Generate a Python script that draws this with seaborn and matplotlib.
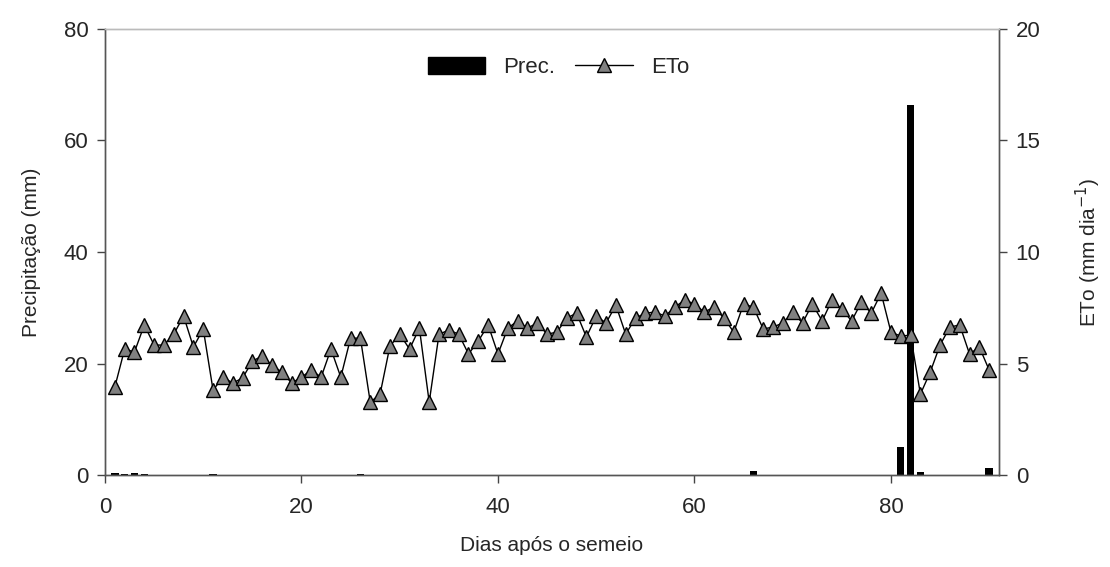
import numpy as np
import pandas as pd
import seaborn as sns
import matplotlib.pyplot as plt
from matplotlib.patches import Patch
from matplotlib.lines import Line2D

sns.set_style("ticks")
plt.rcParams['font.family'] = ['Liberation Sans', 'DejaVu Sans']

# Daily data, days after sowing 1..90
days = list(range(1, 91))

# reference evapotranspiration (mm dia-1)
eto = [3.95, 5.65, 5.52, 6.73, 5.83, 5.83, 6.32, 7.13, 5.74, 6.55,
       3.81, 4.39, 4.13, 4.35, 5.11, 5.34, 4.93, 4.62, 4.13, 4.39,
       4.71, 4.39, 5.65, 4.39, 6.14, 6.14, 3.27, 3.63, 5.78, 6.32,
       5.65, 6.59, 3.27, 6.32, 6.50, 6.32, 5.43, 6.01, 6.73, 5.43,
       6.59, 6.91, 6.59, 6.82, 6.32, 6.41, 7.04, 7.26, 6.19, 7.13,
       6.82, 7.62, 6.32, 7.04, 7.26, 7.31, 7.13, 7.53, 7.85, 7.67,
       7.31, 7.53, 7.04, 6.41, 7.67, 7.53, 6.55, 6.64, 6.82, 7.31,
       6.82, 7.67, 6.91, 7.85, 7.44, 6.91, 7.76, 7.26, 8.16, 6.41,
       6.23, 6.28, 3.63, 4.62, 5.83, 6.64, 6.73, 5.43, 5.74, 4.71]

# precipitation (mm), only rainy days
prec_days = [1, 2, 3, 4, 11, 26, 66, 81, 82, 83, 90]
prec = [0.35, 0.2, 0.35, 0.2, 0.15, 0.15, 0.8, 5.0, 66.4, 0.5, 1.25]

prec_df = pd.DataFrame({'dia': prec_days, 'prec': prec})
eto_df = pd.DataFrame({'dia': days, 'eto': eto})

fig = plt.figure(figsize=(11.1, 5.67), dpi=100)
ax = fig.add_axes([0.0946, 0.162, 0.8054, 0.787])

sns.barplot(data=prec_df, x='dia', y='prec', native_scale=True,
            color='black', width=0.75, saturation=1, ax=ax)
# make bars the width seen in the figure (~0.75 day)
for p in ax.patches:
    cx = p.get_x() + p.get_width() / 2
    p.set_width(0.75)
    p.set_x(cx - 0.375)
    p.set_linewidth(0)

ax2 = ax.twinx()
sns.lineplot(data=eto_df, x='dia', y='eto', ax=ax2,
             color='black', linewidth=1, marker='^', markersize=10,
             markerfacecolor='#808080', markeredgecolor='black',
             markeredgewidth=1)

ax.set_xlim(0, 91)
ax.set_ylim(0, 80)
ax2.set_ylim(0, 20)
ax.set_xticks([0, 20, 40, 60, 80])
ax.set_yticks([0, 20, 40, 60, 80])
ax2.set_yticks([0, 5, 10, 15, 20])

ax.set_xlabel('Dias após o semeio', fontsize=15, labelpad=13)
ax.set_ylabel('Precipitação (mm)', fontsize=15, labelpad=16)
ax2.set_ylabel('ETo (mm dia$^{-1}$)', fontsize=15, labelpad=24)

for a in (ax, ax2):
    a.tick_params(labelsize=16, length=6, width=1, color='#444444', pad=6)
    for s in a.spines.values():
        s.set_visible(True)
        s.set_color('#555555')
        s.set_linewidth(1)
    a.spines['top'].set_color('#bbbbbb')
ax.tick_params(axis='x', pad=10)

handles = [Patch(facecolor='black', edgecolor='black'),
           Line2D([], [], color='black', linewidth=1, marker='^', markersize=10,
                  markerfacecolor='#808080', markeredgecolor='black')]
ax2.legend(handles, ['Prec.', 'ETo'], loc='center', bbox_to_anchor=(0.507, 0.913),
           ncol=2, frameon=False, fontsize=16, handlelength=2.6,
           handleheight=0.8, columnspacing=0.9, handletextpad=0.8)

fig.savefig('out.png', dpi=100)
